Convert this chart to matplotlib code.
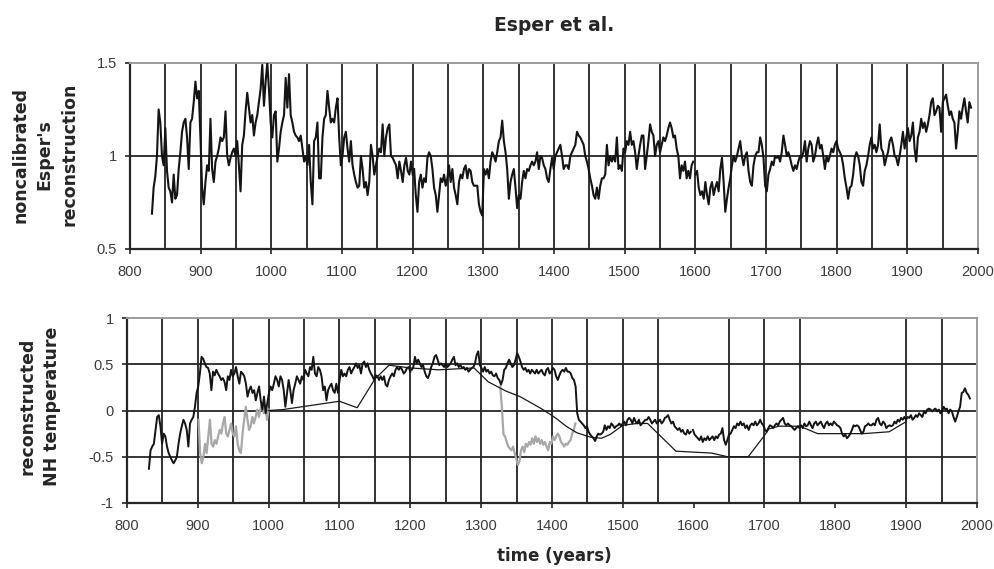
import numpy as np
import matplotlib
matplotlib.use("Agg")
import matplotlib.pyplot as plt

raw_a = [0.69, 0.83, 0.89,
         1.0, 1.25, 1.18, 1.0, 0.95, 1.15, 0.92, 0.83, 0.81, 0.75, 0.9, 0.77, 0.79, 0.93, 1.02, 1.13,
         1.18, 1.2, 1.1, 0.93, 1.18, 1.2, 1.29, 1.4, 1.31, 1.35, 1.1, 0.83, 0.74, 0.86, 0.95, 0.92,
         1.2, 0.93, 0.86, 0.97, 1.0, 1.04, 1.1, 1.08, 1.1, 1.24, 1.0, 0.95, 0.99, 1.02, 1.04, 1.0,
         1.08, 0.95, 0.81, 1.06, 1.11, 1.24, 1.34, 1.26, 1.18, 1.22, 1.11, 1.18, 1.22, 1.29, 1.36,
         1.49, 1.27, 1.4, 1.5, 1.36, 1.18, 1.1, 1.22, 1.24, 0.97, 1.04, 1.13, 1.18, 1.22, 1.42, 1.26,
         1.44, 1.22, 1.18, 1.13, 1.11, 1.1, 1.08, 1.11, 1.04, 0.97, 1.0, 0.95, 1.06, 0.86, 0.74,
         1.08, 1.1, 1.18, 0.88, 0.88, 1.1, 1.2, 1.22, 1.35, 1.26, 1.18, 1.2, 1.18, 1.26, 1.31, 1.1,
         0.95, 1.0, 1.1, 1.13, 1.04, 0.97, 1.08, 0.95, 0.9, 0.86, 0.83, 0.84, 1.0, 0.93, 0.83, 0.86,
         0.79, 0.86, 1.06, 1.0, 0.9, 0.95, 1.0, 1.04, 1.02, 1.17, 1.0, 1.1, 1.15, 1.17, 1.0, 0.99,
         0.97, 0.95, 0.88, 0.97, 0.92, 0.86, 0.95, 0.99, 0.92, 0.9, 0.97, 0.9]
raw_b = [0.93, 0.79, 0.70, 0.86, 0.9, 0.83, 0.88, 0.86, 0.99, 1.02, 1.0, 0.93, 0.83, 0.79, 0.70,
         0.79, 0.88, 0.86, 0.9, 0.84, 0.88, 0.95, 0.86, 0.93, 0.83, 0.79, 0.74, 0.86, 0.9, 0.88,
         0.93, 0.95, 0.88, 0.93, 0.92, 0.86, 0.84, 0.84, 0.84, 0.74, 0.70, 0.68, 0.93, 0.9, 0.93,
         0.88, 0.97, 1.02, 1.0, 0.97, 1.02, 1.08, 1.1, 1.19, 1.08, 1.02, 0.93, 0.77, 0.86, 0.9,
         0.93, 0.83, 0.72, 0.79, 0.77, 0.86, 0.92, 0.88, 0.93, 0.92, 0.95, 0.97, 0.95, 0.97, 1.02,
         0.93, 1.0, 0.99, 0.95, 0.93, 0.88, 0.86, 0.93, 0.99, 0.93, 1.0, 1.02, 1.04, 1.06, 1.0,
         0.93, 0.95, 0.95, 0.93, 1.0, 1.02, 1.04, 1.06, 1.13, 1.11, 1.1, 1.08, 1.06, 1.0, 0.97,
         0.93, 0.88, 0.84, 0.79, 0.77, 0.83, 0.77, 0.84, 0.88, 0.88, 0.9, 1.06, 0.95, 1.0, 0.97,
         1.0, 0.97, 1.1, 0.93, 0.95, 0.92, 1.04, 1.02, 1.08, 1.06, 1.13, 1.06, 1.08, 1.02, 0.93,
         1.0, 1.06, 1.11, 1.11, 0.93, 1.0, 1.08, 1.17, 1.13, 1.11, 1.0, 1.06, 1.08, 1.02, 1.06,
         1.1, 1.08, 1.11, 1.15, 1.18, 1.15, 1.1, 1.11, 1.04, 1.0, 0.88, 0.95, 0.92, 0.97, 0.88,
         0.92, 0.88, 0.95, 0.97]
raw_c = [0.90, 0.92, 0.83, 0.79, 0.81, 0.77, 0.86, 0.79, 0.74, 0.83, 0.86, 0.79, 0.83, 0.86, 0.81,
         0.93, 0.99, 0.86, 0.70, 0.77, 0.83, 0.88, 0.95, 1.0, 0.97, 1.0, 1.04, 1.08, 1.0, 0.95,
         1.0, 1.02, 0.92, 0.86, 0.84, 0.95, 1.0, 1.02, 1.02, 1.1, 1.06, 0.99, 0.84, 0.81, 0.9,
         0.93, 0.97, 0.95, 1.0, 0.99, 1.0, 0.97, 1.02, 1.11, 1.06, 1.0, 1.02, 0.99, 0.95, 0.92,
         0.95, 0.93, 0.97, 1.0, 0.99, 1.02, 1.08, 0.97, 1.04, 1.08, 1.06, 0.97, 1.0, 1.06, 1.1,
         1.04, 1.06, 1.0, 0.93, 1.0, 0.97, 1.0, 1.04, 1.02, 1.06, 1.08, 1.04, 1.02, 1.0, 0.95,
         0.88, 0.83, 0.77, 0.83, 0.84, 0.90, 0.99, 1.02, 1.0, 0.95, 0.86, 0.84, 0.92, 0.95, 1.0,
         1.06, 1.1, 1.04, 1.06, 1.02, 1.06, 1.17, 1.04, 1.02, 0.95, 0.99, 1.02, 1.08, 1.1, 1.06,
         1.0, 0.99, 0.95, 1.0, 1.06, 1.13, 1.04, 1.1, 1.15, 1.08, 1.11, 1.18, 1.04, 0.97, 1.1,
         1.13, 1.2, 1.15, 1.18, 1.13, 1.17, 1.22, 1.29, 1.31, 1.22, 1.24, 1.27, 1.26, 1.13, 1.29,
         1.31, 1.33, 1.27, 1.22, 1.24, 1.2, 1.18, 1.04, 1.13, 1.24, 1.2, 1.26, 1.31, 1.24, 1.18,
         1.29, 1.26]
raw_spans = [(831, 1200), (1202, 1597), (1600, 1990)]

# bottom panel: reconstructed NH temperature (black)
nh_a = [-0.63, -0.43, -0.39, -0.36, -0.21, -0.07, -0.05, -0.17, -0.36, -0.25, -0.28, -0.39, -0.46,
        -0.50, -0.54, -0.57, -0.54, -0.50, -0.36, -0.25, -0.17, -0.10, -0.14, -0.21, -0.39, -0.14,
        -0.10, -0.07, 0.04, 0.19, 0.26, 0.40, 0.58, 0.56, 0.51, 0.47, 0.46, 0.40, 0.22, 0.42, 0.38,
        0.44, 0.40, 0.37, 0.33, 0.35, 0.31, 0.22, 0.37, 0.33, 0.44, 0.37, 0.40, 0.47, 0.37, 0.29,
        0.42, 0.40, 0.37, 0.29, 0.15, 0.22, 0.26, 0.19, 0.22, 0.11, 0.19, 0.26, 0.11, 0.01, 0.15,
        -0.03, 0.08, 0.19, 0.26, 0.22, 0.29, 0.37, 0.33, 0.26, 0.37, 0.33, 0.22, 0.04, 0.19, 0.33,
        0.22, 0.08, 0.22, 0.29, 0.37, 0.33, 0.29, 0.37, 0.33, 0.44, 0.40, 0.37, 0.47, 0.44, 0.58,
        0.40, 0.37, 0.47, 0.44, 0.37, 0.22, 0.26, 0.11, 0.22, 0.26, 0.29, 0.22, 0.19, 0.29, 0.19,
        0.33, 0.44, 0.37, 0.40, 0.37, 0.44, 0.47, 0.40, 0.44, 0.47, 0.51, 0.46, 0.49, 0.40, 0.51,
        0.53, 0.47, 0.51, 0.44, 0.40, 0.37, 0.33, 0.38, 0.37, 0.33, 0.37, 0.33, 0.37, 0.28, 0.26,
        0.33, 0.37, 0.40, 0.37, 0.44, 0.47, 0.44, 0.47, 0.44, 0.40, 0.42, 0.46, 0.47, 0.42]
nh_b = [0.44, 0.47, 0.58, 0.51, 0.55, 0.51, 0.47, 0.49, 0.42, 0.37, 0.35, 0.40, 0.47, 0.51, 0.58,
        0.60, 0.55, 0.49, 0.51, 0.49, 0.47, 0.51, 0.47, 0.49, 0.51, 0.55, 0.58, 0.49, 0.51, 0.47,
        0.49, 0.46, 0.47, 0.44, 0.46, 0.42, 0.44, 0.46, 0.47, 0.51, 0.60, 0.64, 0.49, 0.46, 0.42,
        0.47, 0.42, 0.44, 0.40, 0.42, 0.38, 0.37, 0.40, 0.35, 0.33, 0.28, 0.33, 0.44, 0.46, 0.51,
        0.55, 0.51, 0.47, 0.49, 0.55, 0.62, 0.58, 0.53, 0.47, 0.44, 0.46, 0.42, 0.44, 0.40, 0.44,
        0.42, 0.40, 0.44, 0.40, 0.42, 0.44, 0.40, 0.38, 0.44, 0.46, 0.40, 0.42, 0.46, 0.44, 0.37,
        0.33, 0.38, 0.42, 0.44, 0.42, 0.46, 0.42, 0.42, 0.40, 0.35, 0.33, 0.26, -0.03, -0.10,
        -0.12, -0.14, -0.16, -0.19, -0.17, -0.23, -0.26, -0.28, -0.30, -0.33, -0.28, -0.25, -0.26,
        -0.25, -0.23, -0.16, -0.21, -0.17, -0.19, -0.14, -0.16, -0.19, -0.17, -0.16, -0.14, -0.17,
        -0.14, -0.12, -0.16, -0.10, -0.08, -0.10, -0.14, -0.08, -0.12, -0.14, -0.10, -0.16, -0.14,
        -0.12, -0.10, -0.10, -0.07, -0.10, -0.14, -0.12, -0.10, -0.14, -0.12, -0.10, -0.14, -0.12,
        -0.08, -0.07, -0.05, -0.10, -0.14, -0.12, -0.17, -0.19, -0.21, -0.19, -0.23, -0.21, -0.25,
        -0.26, -0.21, -0.25, -0.23]
nh_c = [-0.21, -0.26, -0.28, -0.30, -0.32, -0.28, -0.34, -0.30, -0.32, -0.28, -0.32, -0.30, -0.28,
        -0.32, -0.28, -0.30, -0.26, -0.25, -0.19, -0.32, -0.37, -0.32, -0.26, -0.25, -0.21, -0.17,
        -0.19, -0.14, -0.16, -0.12, -0.16, -0.14, -0.19, -0.16, -0.21, -0.16, -0.14, -0.16, -0.12,
        -0.16, -0.14, -0.10, -0.14, -0.16, -0.21, -0.23, -0.19, -0.16, -0.17, -0.19, -0.16, -0.14,
        -0.16, -0.12, -0.10, -0.08, -0.14, -0.16, -0.14, -0.16, -0.17, -0.19, -0.21, -0.19, -0.17,
        -0.19, -0.16, -0.19, -0.14, -0.17, -0.16, -0.12, -0.16, -0.19, -0.14, -0.12, -0.16, -0.14,
        -0.12, -0.16, -0.19, -0.14, -0.12, -0.16, -0.14, -0.16, -0.12, -0.14, -0.16, -0.17, -0.19,
        -0.25, -0.28, -0.26, -0.30, -0.28, -0.25, -0.21, -0.16, -0.17, -0.16, -0.17, -0.21, -0.25,
        -0.23, -0.17, -0.16, -0.14, -0.16, -0.16, -0.14, -0.16, -0.10, -0.08, -0.14, -0.16, -0.12,
        -0.14, -0.19, -0.17, -0.16, -0.17, -0.16, -0.12, -0.14, -0.10, -0.12, -0.08, -0.10, -0.07,
        -0.10, -0.07, -0.08, -0.05, -0.10, -0.08, -0.05, -0.07, -0.03, -0.05, -0.07, -0.01, -0.03,
        0.01, 0.02, 0.01, -0.01, 0.01, 0.02, -0.01, 0.01, -0.03, -0.01, 0.04, 0.01, 0.02, -0.03,
        0.01, -0.01, -0.07, -0.12, -0.07, -0.01, 0.04, 0.19, 0.20, 0.24, 0.19, 0.17, 0.13]
nh_spans = [(831, 1200), (1202, 1596), (1599, 1990)]

# grey stretches (unadjusted calibration)
grey_a = [-0.10, -0.46, -0.57, -0.50, -0.36, -0.46, -0.28, -0.10, -0.36, -0.39, -0.32, -0.36,
          -0.28, -0.21, -0.25, -0.14, -0.07, -0.25, -0.28, -0.21, -0.14, -0.25, -0.28, -0.17,
          -0.36, -0.43, -0.46, -0.25, -0.10, 0.04, -0.10, -0.21, -0.17, -0.07, -0.14, -0.07,
          0.01, -0.07, 0.01, 0.08, -0.03, 0.04, -0.10, 0.01]
grey_b = [0.26, 0.04, -0.26, -0.28, -0.34, -0.39, -0.41, -0.43, -0.39, -0.46, -0.52, -0.59, -0.55,
          -0.43, -0.39, -0.45, -0.36, -0.39, -0.34, -0.37, -0.30, -0.36, -0.28, -0.34, -0.30,
          -0.36, -0.32, -0.37, -0.34, -0.39, -0.43, -0.34, -0.36, -0.28, -0.32, -0.28, -0.25,
          -0.28, -0.34, -0.36, -0.39, -0.36, -0.37, -0.34, -0.32, -0.25, -0.21, -0.14]
grey_spans = [(901, 1000), (1327, 1433)]

# thin piecewise line
thin_years = [1000, 1020, 1100, 1125, 1150, 1170, 1200, 1240, 1290, 1310, 1335, 1355, 1385,
              1405, 1420, 1435, 1455, 1470, 1482, 1500, 1520, 1535, 1575, 1625, 1648, 1677,
              1700, 1706, 1720, 1750, 1775, 1800, 1840, 1876, 1900]
thin_vals = [0.0, 0.01, 0.10, 0.03, 0.34, 0.49, 0.46, 0.44, 0.46, 0.31, 0.21, 0.15, 0.02,
             -0.08, -0.17, -0.24, -0.29, -0.30, -0.26, -0.16, -0.14, -0.14, -0.44, -0.46,
             -0.50, -0.50, -0.27, -0.20, -0.17, -0.17, -0.25, -0.25, -0.25, -0.23, -0.12]

x_ticks = list(range(800, 2001, 100))
top_vgrid = list(range(850, 2000, 50))
bottom_vgrid = [y for y in range(850, 2000, 50) if y not in (1600, 1800, 1850)]
top_yticks = [0.5, 1, 1.5]
top_ylabels = ["0.5", "1", "1.5"]
bottom_yticks = [-1, -0.5, 0, 0.5, 1]
bottom_ylabels = ["-1", "-0.5", "0", "0.5", "1"]
top_hgrid = [1]
bottom_hgrid = [-0.5, 0, 0.5]


def pieces(chunks, spans):
    out = []
    for vals, (a, b) in zip(chunks, spans):
        out.append((np.linspace(a, b, len(vals)), np.array(vals)))
    return out


fig = plt.figure(figsize=(9.95, 5.69), dpi=100)
ax1 = fig.add_axes([0.1307, 0.5624, 0.8523, 0.3269])
ax2 = fig.add_axes([0.1276, 0.1160, 0.8543, 0.3251])

dark = "#262626"
for ax, vgrid, hgrid in ((ax1, top_vgrid, top_hgrid), (ax2, bottom_vgrid, bottom_hgrid)):
    ax.set_xlim(800, 2000)
    ax.set_xticks(x_ticks)
    for x in vgrid:
        ax.axvline(x, color="#333333", lw=1.4, zorder=1)
    for y in hgrid:
        ax.axhline(y, color=dark, lw=1.3, zorder=1)
    for s in ("left", "bottom"):
        ax.spines[s].set_color(dark)
        ax.spines[s].set_linewidth(1.6)
    for s in ("top", "right"):
        ax.spines[s].set_color("#9c9c9c")
        ax.spines[s].set_linewidth(1.4)
    ax.tick_params(direction="out", length=3.5, width=1.2, color=dark,
                   labelsize=10.5, labelcolor="#3c3c3c")
    ax.tick_params(axis="x", pad=8)
    ax.tick_params(axis="y", pad=6)
    for lab in ax.get_xticklabels() + ax.get_yticklabels():
        lab.set_fontfamily("Liberation Sans")

ax1.set_ylim(0.5, 1.5)
ax1.set_yticks(top_yticks)
ax1.set_yticklabels(top_ylabels, fontfamily="Liberation Sans")
for xs, ys in pieces([raw_a, raw_b, raw_c], raw_spans):
    ax1.plot(xs, ys, color="#141414", lw=1.5, zorder=3)

ax2.set_ylim(-1, 1)
ax2.set_yticks(bottom_yticks)
ax2.set_yticklabels(bottom_ylabels, fontfamily="Liberation Sans")
for xs, ys in pieces([grey_a, grey_b], grey_spans):
    ax2.plot(xs, ys, color="#a8a8a8", lw=1.6, zorder=2)
ax2.plot(thin_years, thin_vals, color="#1a1a1a", lw=0.9, zorder=3)
for xs, ys in pieces([nh_a, nh_b, nh_c], nh_spans):
    ax2.plot(xs, ys, color="#141414", lw=1.4, zorder=4)

fig.text(0.557, 0.956, "Esper et al.", ha="center", va="center",
         fontsize=13.5, fontweight="bold", color="#262626")
fig.text(0.045, 0.728, "noncalibrated\nEsper's\nreconstruction", rotation=90,
         ha="center", va="center", multialignment="center", linespacing=1.45,
         fontsize=12.5, fontweight="bold", color="#262626")
fig.text(0.040, 0.2865, "reconstructed\nNH temperature", rotation=90,
         ha="center", va="center", multialignment="center", linespacing=1.45,
         fontsize=12.5, fontweight="bold", color="#262626")
fig.text(0.557, 0.023, "time (years)", ha="center", va="center",
         fontsize=12, fontweight="bold", color="#262626")

fig.savefig("out.png", dpi=100)
